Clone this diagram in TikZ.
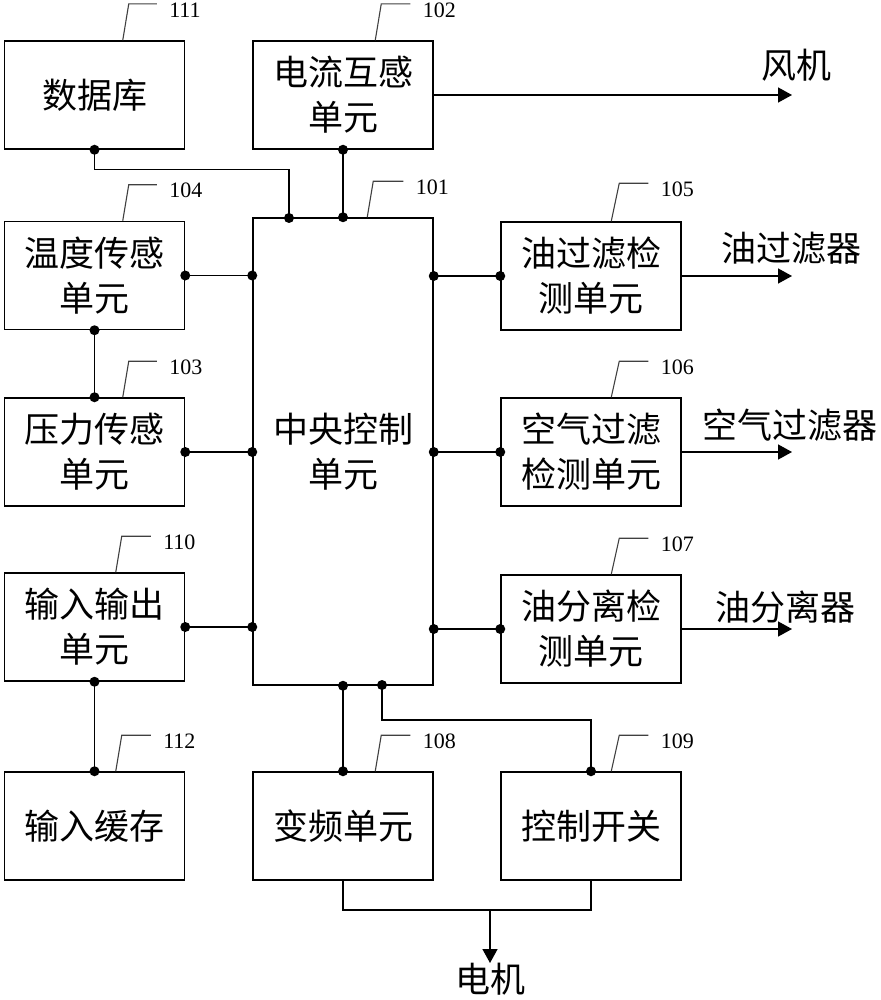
\documentclass[tikz,border=0pt]{standalone}
\usepackage{fontspec}
\setmainfont{Liberation Serif}
\newfontfamily\cjk{Noto Sans CJK SC}
\usetikzlibrary{arrows.meta,calc}
\begin{document}
\begin{tikzpicture}[x=1pt,y=-1pt,
  box/.style={draw, line width=1.5pt, inner sep=0pt, minimum width=180pt, minimum height=108pt,
    align=center, font=\cjk\fontsize{35}{45}\selectfont},
  wire/.style={line width=1.5pt},
  leader/.style={line width=1.1pt, draw=black!75},
  num/.style={anchor=west, inner sep=0pt, font=\fontsize{22}{22}\selectfont, xshift=12pt, yshift=-6pt},
  outtxt/.style={inner sep=0pt, font=\cjk\fontsize{35}{40}\selectfont},
  arr/.style={wire, -{Triangle[length=14pt,width=15pt]}},
  jdot/.style={circle, fill=black, inner sep=0pt, minimum size=10pt}
]
\useasboundingbox (0,0) rectangle (880,1000);

% boxes
\node[box] (db)   at (94.5,95)   {数据库};
\node[box] (ct)   at (343,95)    {电流互感\\单元};
\node[box, minimum height=467pt] (cu) at (343,451.5) {中央控制\\单元};
\node[box] (temp) at (94.5,275.5) {温度传感\\单元};
\node[box] (pres) at (94.5,452)  {压力传感\\单元};
\node[box] (io)   at (94.5,627)  {输入输出\\单元};
\node[box] (buf)  at (94.5,826)  {输入缓存};
\node[box] (vf)   at (343,826)   {变频单元};
\node[box] (sw)   at (591,826)   {控制开关};
\node[box] (of)   at (591,276)   {油过滤检\\测单元};
\node[box] (af)   at (591,452)   {空气过滤\\检测单元};
\node[box] (os)   at (591,629)   {油分离检\\测单元};

% outside labels
\node[outtxt] (fan)  at (796,65)  {风机};
\node[outtxt] (oflt) at (791,248) {油过滤器};
\node[outtxt] (aflt) at (790,425) {空气过滤器};
\node[outtxt] (osep) at (785,607) {油分离器};
\node[outtxt] (mot)  at (490,979) {电机};

% arrow end coordinates
\coordinate (fanE)  at (792,95);
\coordinate (oflE)  at (792,276);
\coordinate (aflE)  at (792,452);
\coordinate (osE)   at (792,629);
\coordinate (motE)  at (490,963);
\coordinate (motS)  at (490,909);
\coordinate (j1)    at (289,218);
\coordinate (j2)    at (382,685);

% leaders
\draw[leader] ($(db.north west)+(119,0)$) -- ++(6,-36.3) -- ++(28,0) node[num]{111};
\draw[leader] ($(ct.north west)+(123,0)$) -- ++(6,-36.3) -- ++(29,0) node[num]{102};
\draw[leader] ($(cu.north west)+(115,0)$) -- ++(6,-36) -- ++(30,0) node[num]{101};
\draw[leader] ($(temp.north west)+(119,0)$) -- ++(6,-36) -- ++(28,0) node[num]{104};
\draw[leader] ($(of.north west)+(111,0)$) -- ++(8,-38) -- ++(29,0) node[num]{105};
\draw[leader] ($(pres.north west)+(119,0)$) -- ++(6,-36) -- ++(28,0) node[num]{103};
\draw[leader] ($(af.north west)+(111,0)$) -- ++(8,-36) -- ++(29,0) node[num]{106};
\draw[leader] ($(io.north west)+(112,0)$) -- ++(6,-36) -- ++(29,0) node[num]{110};
\draw[leader] ($(os.north west)+(111,0)$) -- ++(8,-36) -- ++(29,0) node[num]{107};
\draw[leader] ($(buf.north west)+(112,0)$) -- ++(6,-36) -- ++(29,0) node[num]{112};
\draw[leader] ($(vf.north west)+(123,0)$) -- ++(6,-36) -- ++(29,0) node[num]{108};
\draw[leader] ($(sw.north west)+(111,0)$) -- ++(8,-36) -- ++(29,0) node[num]{109};

% wires
\draw[wire] (db.south) -- ++(0,20) -| (j1);
\node[jdot] at (db.south) {}; \node[jdot] at (j1) {};
\draw[wire] (ct.south) -- (ct.south |- cu.north);
\node[jdot] at (ct.south) {}; \node[jdot] at (ct.south |- cu.north) {};
\draw[arr] (ct.east) -- (fanE);

\draw[wire] (temp.east) -- (temp.east -| cu.west);
\node[jdot] at (temp.east) {}; \node[jdot] at (temp.east -| cu.west) {};
\draw[wire] (pres.east) -- (pres.east -| cu.west);
\node[jdot] at (pres.east) {}; \node[jdot] at (pres.east -| cu.west) {};
\draw[wire] (io.east) -- (io.east -| cu.west);
\node[jdot] at (io.east) {}; \node[jdot] at (io.east -| cu.west) {};

\draw[wire] (temp.south) -- (pres.north);
\node[jdot] at (temp.south) {}; \node[jdot] at (pres.north) {};
\draw[wire] (io.south) -- (buf.north);
\node[jdot] at (io.south) {}; \node[jdot] at (buf.north) {};

\draw[wire] (of.west -| cu.east) -- (of.west);
\node[jdot] at (of.west -| cu.east) {}; \node[jdot] at (of.west) {};
\draw[wire] (af.west -| cu.east) -- (af.west);
\node[jdot] at (af.west -| cu.east) {}; \node[jdot] at (af.west) {};
\draw[wire] (os.west -| cu.east) -- (os.west);
\node[jdot] at (os.west -| cu.east) {}; \node[jdot] at (os.west) {};

\draw[arr] (of.east) -- (oflE);
\draw[arr] (af.east) -- (aflE);
\draw[arr] (os.east) -- (osE);

\draw[wire] (vf.north |- cu.south) -- (vf.north);
\node[jdot] at (vf.north |- cu.south) {}; \node[jdot] at (vf.north) {};
\draw[wire] (j2) -- ++(0,35) -| (sw.north);
\node[jdot] at (j2) {}; \node[jdot] at (sw.north) {};

\draw[wire] (vf.south) -- ++(0,29) -| (sw.south);
\draw[arr] (motS) -- (motE);
\end{tikzpicture}
\end{document}
